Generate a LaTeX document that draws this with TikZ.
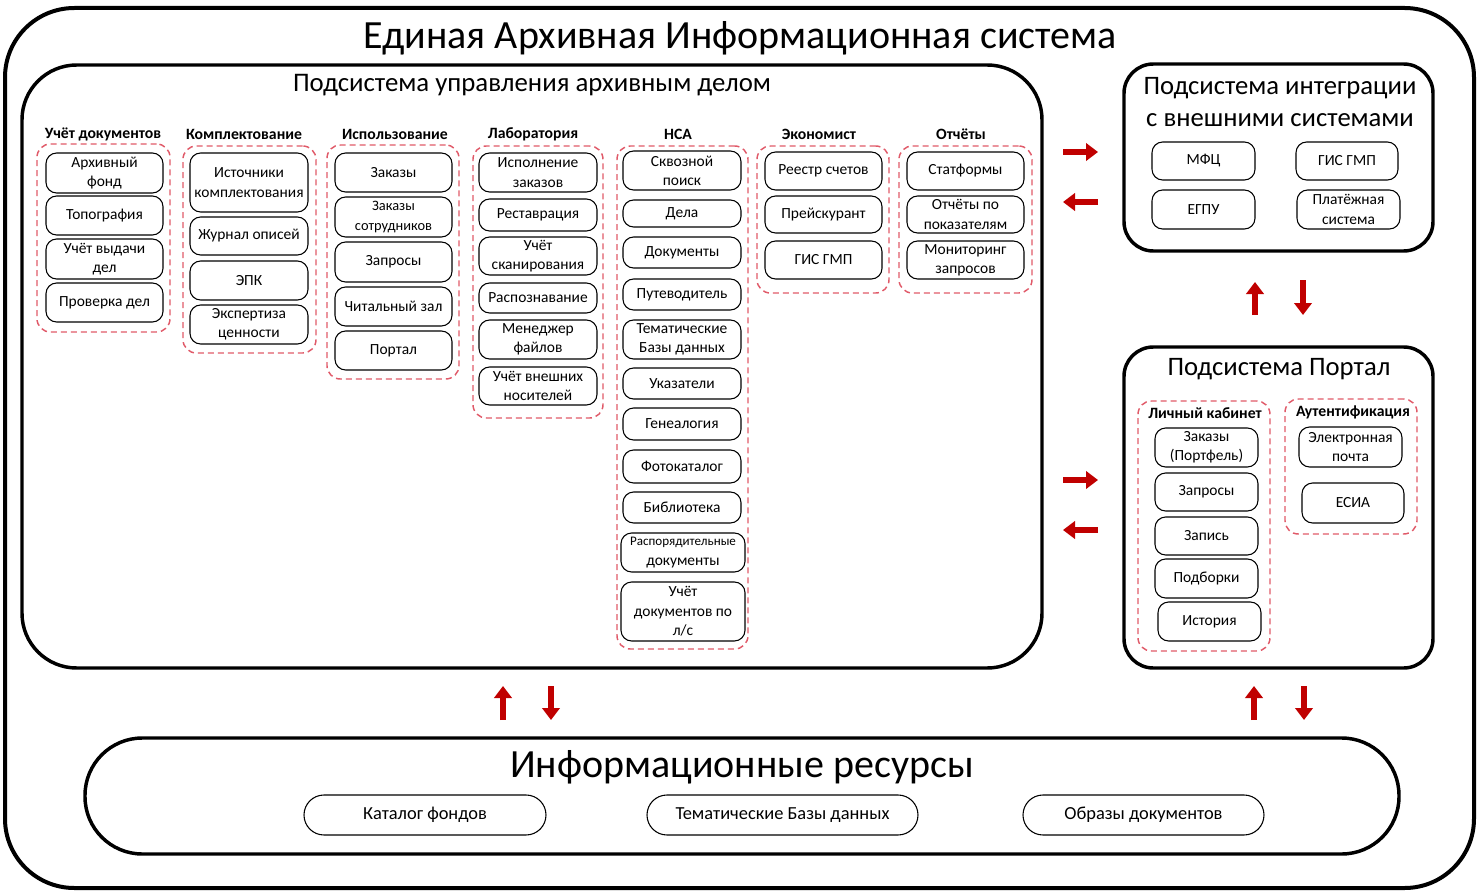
\documentclass[tikz,border=0pt]{standalone}
\usepackage{fontspec}
\setmainfont{Carlito}
\usetikzlibrary{arrows.meta}
\definecolor{dred}{RGB}{192,0,0}
\definecolor{dashred}{RGB}{224,90,105}
\newcommand\bx[7][item]{\node[#1, minimum width={(#5-#3)*0.75pt}, minimum height={(#6-#4)*0.75pt}] (#2) at ({(#3+#5)/2},{(#4+#6)/2}) {#7};}
\tikzset{
  item/.style={draw=black, line width=0.8pt, rounded corners=8pt, inner sep=1pt, outer sep=0pt, align=center, font=\fontsize{11.6}{14.5}\selectfont},
  itemsm/.style={item, font=\fontsize{9.8}{14.5}\selectfont},
  group/.style={draw=dashred, line width=1.1pt, dash pattern=on 4.5pt off 3pt, rounded corners=10pt, inner sep=0pt, outer sep=0pt},
  head/.style={font=\fontsize{11.8}{13}\selectfont\bfseries, inner sep=0pt},
  frame/.style={draw=black, line width=3pt, rounded corners=52pt, inner sep=0pt, outer sep=0pt},
  subsys/.style={draw=black, line width=2.6pt, rounded corners=41pt, inner sep=0pt, outer sep=0pt},
  subsm/.style={draw=black, line width=2.6pt, rounded corners=22pt, inner sep=0pt, outer sep=0pt},
  stadium/.style={draw=black, line width=2.6pt, rounded corners=43pt, inner sep=0pt, outer sep=0pt},
  res/.style={draw=black, line width=0.8pt, rounded corners=15pt, inner sep=1pt, outer sep=0pt, font=\fontsize{13.8}{15}\selectfont},
  flow/.style={draw=dred, line width=4.5pt, -{Triangle[length=9pt,width=13pt]}, shorten <=0pt},
}
\begin{document}
\begin{tikzpicture}[x=0.75pt,y=-0.75pt]
\useasboundingbox (0,0) rectangle (1479,892);
% containers
\bx[frame]{outer}{5}{8}{1474}{888}{}
\node[font=\fontsize{30}{34}\selectfont, inner sep=0pt] (title) at (740,38) {Единая Архивная Информационная система};
\bx[subsys]{mgmt}{22}{65}{1042}{668}{}
\node[font=\fontsize{20.1}{24}\selectfont, inner sep=0pt] (mgmttitle) at (532,85) {Подсистема управления архивным делом};
\bx[subsm]{integ}{1124}{64}{1433}{251}{}
\node[font=\fontsize{20}{23.5}\selectfont, inner sep=0pt, align=center] (integtitle) at (1280,102) {Подсистема интеграции\\с внешними системами};
\bx[subsm]{portal}{1124}{347}{1433}{668}{}
\node[font=\fontsize{20}{24}\selectfont, inner sep=0pt] (portaltitle) at (1279,369) {Подсистема Портал};
\bx[stadium]{info}{85}{738}{1399}{854}{}
\node[font=\fontsize{30}{34}\selectfont, inner sep=0pt] (infotitle) at (742,767) {Информационные ресурсы};

% column 1
\node[head] (h1) at (103,134) {Учёт документов};
\bx[group]{g1}{37}{144}{170}{332}{}
\bx{a1}{46}{153}{163}{193}{Архивный\\фонд}
\bx{a2}{46}{196}{163}{235}{Топография}
\bx{a3}{46}{239}{163}{279}{Учёт выдачи\\дел}
\bx{a4}{46}{283}{163}{322}{Проверка дел}
% column 2
\node[head] (h2) at (244,134) {Комплектование};
\bx[group]{g2}{183}{146}{316}{353}{}
\bx{b1}{190}{153}{308}{212}{Источники\\комплектования}
\bx{b2}{190}{217}{308}{255}{Журнал описей}
\bx{b3}{190}{261}{308}{300}{ЭПК}
\bx{b4}{190}{305}{308}{344}{Экспертиза\\ценности}
% column 3
\node[head] (h3) at (395,134) {Использование};
\bx[group]{g3}{327}{145}{459}{379}{}
\bx{c1}{335}{153}{452}{192}{Заказы}
\bx{c2}{335}{197}{452}{237}{\fontsize{10.8}{13.5}\selectfont Заказы\\\fontsize{10.8}{13.5}\selectfont сотрудников}
\bx{c3}{335}{242}{452}{282}{Запросы}
\bx{c4}{335}{287}{452}{326}{Читальный зал}
\bx{c5}{335}{331}{452}{370}{Портал}
% column 4
\node[head] (h4) at (533,134) {Лаборатория};
\bx[group]{g4}{473}{146}{603}{418}{}
\bx{d1}{479}{153}{597}{192}{Исполнение\\заказов}
\bx{d2}{479}{199}{597}{231}{Реставрация}
\bx{d3}{479}{237}{597}{275}{Учёт\\сканирования}
\bx{d4}{479}{283}{597}{313}{Распознавание}
\bx{d5}{479}{320}{597}{359}{Менеджер\\файлов}
\bx{d6}{479}{367}{597}{405}{Учёт внешних\\носителей}
% column 5
\node[head] (h5) at (678,134) {НСА};
\bx[group]{g5}{617}{146}{748}{649}{}
\bx{e1}{623}{151}{741}{190}{Сквозной\\поиск}
\bx{e2}{623}{200}{741}{227}{Дела}
\bx{e3}{623}{237}{741}{268}{Документы}
\bx{e4}{623}{279}{741}{310}{Путеводитель}
\bx{e5}{623}{320}{741}{359}{Тематические\\Базы данных}
\bx{e6}{623}{368}{741}{399}{Указатели}
\bx{e7}{623}{408}{741}{440}{Генеалогия}
\bx{e8}{623}{450}{741}{483}{Фотокаталог}
\bx{e9}{623}{492}{741}{523}{Библиотека}
\bx[itemsm]{e10}{621}{533}{745}{572}{Распорядительные\\\fontsize{11.6}{14.5}\selectfont документы}
\bx{e11}{621}{582}{745}{641}{Учёт\\документов по\\л/с}
% column 6
\node[head] (h6) at (819,134) {Экономист};
\bx[group]{g6}{757}{146}{889}{293}{}
\bx{f1}{765}{152}{882}{190}{Реестр счетов}
\bx{f2}{765}{196}{882}{233}{Прейскурант}
\bx{f3}{765}{241}{882}{279}{ГИС ГМП}
% column 7
\node[head] (h7) at (961,134) {Отчёты};
\bx[group]{g7}{899}{146}{1032}{293}{}
\bx{k1}{907}{152}{1024}{190}{Статформы}
\bx{k2}{907}{196}{1024}{233}{Отчёты по\\показателям}
\bx{k3}{907}{241}{1024}{279}{Мониторинг\\запросов}

% integration items
\bx{i1}{1152}{142}{1255}{180}{МФЦ}
\bx{i2}{1296}{142}{1398}{180}{ГИС ГМП}
\bx{i3}{1152}{190}{1255}{229}{ЕГПУ}
\bx{i4}{1297}{190}{1400}{229}{Платёжная\\система}

% portal groups
\bx[group]{pg1}{1138}{401}{1270}{651}{}
\node[head] (ph1) at (1205,413) {Личный кабинет};
\bx{p1}{1155}{428}{1258}{467}{Заказы\\(Портфель)}
\bx{p2}{1155}{473}{1258}{511}{Запросы}
\bx{p3}{1155}{517}{1258}{555}{Запись}
\bx{p4}{1155}{559}{1258}{598}{Подборки}
\bx{p5}{1158}{602}{1261}{641}{История}
\bx[group]{pg2}{1285}{399}{1417}{534}{}
\node[head] (ph2) at (1353,412) {Аутентификация};
\bx{q1}{1299}{427}{1402}{467}{Электронная\\почта}
\bx{q2}{1302}{483}{1404}{523}{ЕСИА}

% resources
\bx[res]{r1}{304}{795}{546}{835}{Каталог фондов}
\bx[res]{r2}{647}{795}{918}{835}{Тематические Базы данных}
\bx[res]{r3}{1023}{795}{1264}{835}{Образы документов}

% arrows
\coordinate (a1s) at (1063,152); \coordinate (a1e) at (1098,152);
\coordinate (a2s) at (1098,202); \coordinate (a2e) at (1063,202);
\coordinate (a3s) at (1255,315); \coordinate (a3e) at (1255,282);
\coordinate (a4s) at (1303,280); \coordinate (a4e) at (1303,315);
\coordinate (a5s) at (1063,480); \coordinate (a5e) at (1098,480);
\coordinate (a6s) at (1098,530); \coordinate (a6e) at (1063,530);
\coordinate (a7s) at (503,720); \coordinate (a7e) at (503,686);
\coordinate (a8s) at (551,686); \coordinate (a8e) at (551,720);
\coordinate (a9s) at (1254,720); \coordinate (a9e) at (1254,686);
\coordinate (a10s) at (1304,686); \coordinate (a10e) at (1304,720);
\foreach \i in {1,...,10} {\draw[flow] (a\i s) -- (a\i e);}
\end{tikzpicture}
\end{document}
